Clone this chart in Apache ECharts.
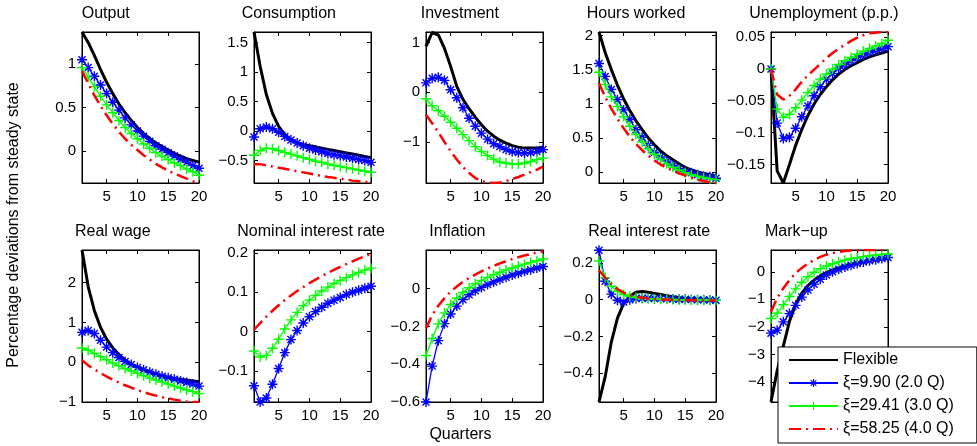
<!DOCTYPE html>
<html><head><meta charset="utf-8">
<script src="https://cdn.jsdelivr.net/npm/echarts@6/dist/echarts.min.js"></script>
<style>html,body{margin:0;padding:0;background:#fff}#c{width:977px;height:446px}</style>
</head><body><div id="c"></div><script>
// ---------------- data ----------------
const quarters = [1,2,3,4,5,6,7,8,9,10,11,12,13,14,15,16,17,18,19,20];
const seriesNames = ['Flexible', 'ξ=9.90 (2.0 Q)', 'ξ=29.41 (3.0 Q)', 'ξ=58.25 (4.0 Q)'];
const panelTitles = ['Output','Consumption','Investment','Hours worked','Unemployment (p.p.)',
                     'Real wage','Nominal interest rate','Inflation','Real interest rate','Mark\u2212up'];

const outputFlex = [1.37,1.25,1.10,0.94,0.79,0.66,0.54,0.44,0.35,0.27,0.20,0.14,0.09,0.05,0.01,-0.03,-0.06,-0.09,-0.11,-0.13];
const outputXi1  = [1.05,0.96,0.86,0.76,0.66,0.56,0.47,0.38,0.30,0.23,0.17,0.11,0.06,0.02,-0.02,-0.06,-0.10,-0.13,-0.17,-0.20];
const outputXi2  = [0.96,0.85,0.74,0.63,0.53,0.44,0.35,0.27,0.20,0.14,0.08,0.03,-0.02,-0.06,-0.10,-0.14,-0.17,-0.21,-0.24,-0.28];
const outputXi3  = [0.92,0.78,0.64,0.52,0.41,0.31,0.22,0.14,0.07,0.01,-0.05,-0.10,-0.15,-0.19,-0.23,-0.26,-0.29,-0.32,-0.35,-0.37];

const consFlex = [1.68,1.10,0.62,0.30,0.08,-0.06,-0.15,-0.20,-0.23,-0.25,-0.27,-0.29,-0.31,-0.33,-0.35,-0.37,-0.39,-0.41,-0.43,-0.45];
const consXi1  = [-0.10,0.04,0.07,0.04,-0.02,-0.09,-0.15,-0.20,-0.25,-0.29,-0.32,-0.35,-0.38,-0.40,-0.42,-0.44,-0.46,-0.48,-0.50,-0.53];
const consXi2  = [-0.41,-0.33,-0.29,-0.30,-0.33,-0.36,-0.39,-0.42,-0.45,-0.48,-0.51,-0.53,-0.56,-0.58,-0.60,-0.62,-0.64,-0.66,-0.68,-0.70];
const consXi3  = [-0.56,-0.56,-0.58,-0.60,-0.62,-0.64,-0.66,-0.68,-0.70,-0.72,-0.74,-0.76,-0.78,-0.79,-0.81,-0.82,-0.84,-0.85,-0.86,-0.87];

const invFlex = [0.92,1.20,1.15,0.88,0.52,0.12,-0.14,-0.33,-0.50,-0.65,-0.78,-0.88,-0.96,-1.02,-1.07,-1.10,-1.12,-1.12,-1.12,-1.10];
const invXi1  = [0.19,0.28,0.30,0.24,0.05,-0.11,-0.31,-0.52,-0.68,-0.82,-0.94,-1.03,-1.09,-1.15,-1.19,-1.21,-1.22,-1.21,-1.19,-1.15];
const invXi2  = [-0.13,-0.27,-0.37,-0.48,-0.60,-0.72,-0.85,-0.97,-1.09,-1.19,-1.27,-1.34,-1.40,-1.42,-1.44,-1.44,-1.42,-1.39,-1.35,-1.32];
const invXi3  = [-0.45,-0.62,-0.80,-1.00,-1.18,-1.35,-1.50,-1.62,-1.72,-1.78,-1.81,-1.82,-1.81,-1.78,-1.74,-1.70,-1.65,-1.60,-1.55,-1.49];

const hoursFlex = [2.05,1.75,1.50,1.27,1.07,0.90,0.75,0.62,0.50,0.40,0.31,0.24,0.18,0.12,0.07,0.03,0.00,-0.02,-0.04,-0.06];
const hoursXi1  = [1.59,1.40,1.21,1.06,0.91,0.77,0.62,0.51,0.39,0.29,0.22,0.16,0.10,0.05,0.01,-0.01,-0.04,-0.06,-0.07,-0.09];
const hoursXi2  = [1.46,1.28,1.10,0.96,0.81,0.67,0.55,0.44,0.34,0.26,0.19,0.12,0.07,0.03,-0.01,-0.04,-0.06,-0.08,-0.10,-0.11];
const hoursXi3  = [1.30,1.10,0.93,0.78,0.64,0.52,0.41,0.32,0.24,0.17,0.11,0.06,0.02,-0.02,-0.05,-0.08,-0.11,-0.13,-0.15,-0.16];

const unempFlex = [0,-0.160,-0.179,-0.150,-0.120,-0.095,-0.073,-0.055,-0.040,-0.028,-0.017,-0.008,-0.001,0.005,0.010,0.015,0.019,0.022,0.025,0.028];
const unempXi1  = [0,-0.085,-0.109,-0.107,-0.093,-0.075,-0.058,-0.042,-0.028,-0.016,-0.007,0.001,0.007,0.013,0.018,0.022,0.026,0.029,0.032,0.035];
const unempXi2  = [0,-0.063,-0.076,-0.071,-0.061,-0.049,-0.037,-0.026,-0.016,-0.008,0.000,0.007,0.013,0.018,0.023,0.028,0.032,0.036,0.040,0.045];
const unempXi3  = [0,-0.040,-0.048,-0.042,-0.032,-0.020,-0.010,-0.001,0.008,0.017,0.025,0.032,0.038,0.044,0.049,0.053,0.056,0.057,0.058,0.058];

const wageFlex = [2.82,1.90,1.30,0.88,0.58,0.36,0.19,0.05,-0.05,-0.13,-0.20,-0.26,-0.31,-0.35,-0.38,-0.41,-0.43,-0.45,-0.47,-0.49];
const wageXi1  = [0.75,0.80,0.72,0.55,0.38,0.24,0.12,0.02,-0.06,-0.13,-0.19,-0.25,-0.30,-0.35,-0.39,-0.43,-0.47,-0.51,-0.55,-0.60];
const wageXi2  = [0.35,0.30,0.22,0.14,0.06,-0.02,-0.09,-0.16,-0.22,-0.28,-0.34,-0.40,-0.45,-0.50,-0.55,-0.60,-0.65,-0.70,-0.74,-0.79];
const wageXi3  = [0.05,-0.08,-0.18,-0.27,-0.36,-0.44,-0.51,-0.58,-0.64,-0.70,-0.75,-0.80,-0.84,-0.88,-0.91,-0.94,-0.97,-0.99,-1.00,-1.00];

const nomXi1 = [-0.137,-0.178,-0.168,-0.133,-0.093,-0.053,-0.020,0.003,0.022,0.038,0.051,0.062,0.072,0.080,0.087,0.094,0.100,0.105,0.110,0.115];
const nomXi2 = [-0.049,-0.064,-0.060,-0.042,-0.019,0.007,0.030,0.049,0.066,0.080,0.092,0.103,0.113,0.122,0.130,0.137,0.144,0.150,0.156,0.161];
const nomXi3 = [0.005,0.022,0.038,0.053,0.067,0.080,0.092,0.103,0.113,0.123,0.132,0.141,0.149,0.157,0.164,0.171,0.178,0.185,0.191,0.197];

const inflXi1 = [-0.600,-0.410,-0.275,-0.185,-0.134,-0.092,-0.058,-0.032,-0.011,0.007,0.022,0.036,0.049,0.061,0.072,0.082,0.092,0.101,0.110,0.118];
const inflXi2 = [-0.354,-0.264,-0.186,-0.128,-0.084,-0.049,-0.020,0.005,0.026,0.044,0.060,0.074,0.087,0.099,0.110,0.120,0.130,0.139,0.148,0.157];
const inflXi3 = [-0.210,-0.140,-0.090,-0.050,-0.015,0.012,0.036,0.057,0.075,0.092,0.107,0.121,0.134,0.146,0.157,0.167,0.176,0.184,0.191,0.198];

const rrFlex = [-0.556,-0.420,-0.230,-0.100,-0.020,0.018,0.040,0.044,0.040,0.034,0.028,0.022,0.016,0.011,0.007,0.004,0.001,-0.001,-0.003,-0.005];
const rrXi1  = [0.269,0.100,0.030,-0.003,-0.012,0.000,0.006,0.008,0.008,0.007,0.006,0.005,0.004,0.003,0.002,0.001,0.000,-0.001,-0.002,-0.003];
const rrXi2  = [0.210,0.120,0.073,0.045,0.028,0.018,0.012,0.008,0.006,0.004,0.003,0.002,0.001,0.000,-0.001,-0.002,-0.002,-0.003,-0.003,-0.004];
const rrXi3  = [0.160,0.120,0.085,0.057,0.038,0.025,0.016,0.010,0.006,0.003,0.001,0.000,-0.001,-0.002,-0.003,-0.003,-0.004,-0.004,-0.004,-0.004];

const markFlex = [-4.72,-3.60,-2.70,-1.80,-1.18,-0.78,-0.50,-0.30,-0.15,-0.03,0.07,0.15,0.22,0.28,0.33,0.37,0.41,0.44,0.47,0.50];
const markXi1  = [-2.23,-2.12,-1.82,-1.52,-1.22,-0.92,-0.66,-0.45,-0.27,-0.12,0.00,0.09,0.17,0.24,0.30,0.35,0.40,0.44,0.48,0.52];
const markXi2  = [-1.70,-1.50,-1.20,-0.90,-0.62,-0.38,-0.18,-0.02,0.11,0.21,0.29,0.36,0.42,0.47,0.51,0.55,0.58,0.61,0.63,0.65];
const markXi3  = [-1.45,-0.95,-0.60,-0.30,-0.05,0.14,0.30,0.43,0.54,0.62,0.68,0.72,0.75,0.77,0.78,0.79,0.79,0.79,0.79,0.79];

const xTicks = [5,10,15,20];
const yTicksOutput = [0,0.5,1];
const yTicksCons   = [-0.5,0,0.5,1,1.5];
const yTicksInv    = [-1,0,1];
const yTicksHours  = [0,0.5,1,1.5,2];
const yTicksUnemp  = [-0.15,-0.1,-0.05,0,0.05];
const yTicksWage   = [-1,0,1,2];
const yTicksNom    = [-0.1,0,0.1,0.2];
const yTicksInfl   = [-0.6,-0.4,-0.2,0];
const yTicksRR     = [-0.4,-0.2,0,0.2];
const yTicksMark   = [-4,-3,-2,-1,0];

// ---------------- layout ----------------
const panels = [
  {data:[outputFlex,outputXi1,outputXi2,outputXi3], ticks:yTicksOutput, min:-0.37, max:1.37},
  {data:[consFlex,consXi1,consXi2,consXi3], ticks:yTicksCons, min:-0.88, max:1.68},
  {data:[invFlex,invXi1,invXi2,invXi3], ticks:yTicksInv, min:-1.82, max:1.21},
  {data:[hoursFlex,hoursXi1,hoursXi2,hoursXi3], ticks:yTicksHours, min:-0.16, max:2.05},
  {data:[unempFlex,unempXi1,unempXi2,unempXi3], ticks:yTicksUnemp, min:-0.179, max:0.058},
  {data:[wageFlex,wageXi1,wageXi2,wageXi3], ticks:yTicksWage, min:-1.0, max:2.82},
  {data:[null,nomXi1,nomXi2,nomXi3], ticks:yTicksNom, min:-0.178, max:0.207},
  {data:[null,inflXi1,inflXi2,inflXi3], ticks:yTicksInfl, min:-0.6, max:0.205},
  {data:[rrFlex,rrXi1,rrXi2,rrXi3], ticks:yTicksRR, min:-0.556, max:0.27},
  {data:[markFlex,markXi1,markXi2,markXi3], ticks:yTicksMark, min:-4.73, max:0.79}
];
const colLeft = [82, 254, 426, 599, 771];
const rowTop = [32, 250];
const rowH = [151, 152];
const boxW = 117;
const titlePos = [[81.7,13.5],[241.7,13.5],[420.7,13.5],[586.7,13.5],[749.3,13.5],
                  [75,232],[237.3,232],[429.3,232],[588.3,232],[765,232]];

const FONT = '"Liberation Sans", Arial, Helvetica, sans-serif';
const STAR = 'path://M0 43L100 43L100 57L0 57Z M43 0L57 0L57 100L43 100Z M10 20L20 10L90 80L80 90Z M80 10L90 20L20 90L10 80Z';
const PLUS = 'path://M0 43L100 43L100 57L0 57Z M43 0L57 0L57 100L43 100Z';
// invisible marker (two sub-pixel specks at the corners) so the legend shows a bare line
const NOMARK = 'path://M0 0L0.1 0L0.1 0.1Z M99.9 99.9L100 99.9L100 100Z';
const styles = [
  {color:'#000000', width:3, type:'solid', symbol:NOMARK, size:0, show:false},
  {color:'#0000ff', width:1.3, type:'solid', symbol:STAR, size:10, show:true},
  {color:'#00ff00', width:1.3, type:'solid', symbol:PLUS, size:10, show:true},
  {color:'#ff0000', width:2.5, type:[12,5,2,5], symbol:NOMARK, size:0, show:false}
];
const fmt = v => (v < 0 ? '\u2212' + String(-v) : String(v));

const grid = [], xAxis = [], yAxis = [], series = [], graphic = [];
panels.forEach((p, i) => {
  const r = Math.floor(i / 5), c = i % 5;
  grid.push({left: colLeft[c], top: rowTop[r], width: boxW, height: rowH[r],
             show: true, borderColor: '#000', borderWidth: 1, backgroundColor: '#fff'});
  const xa = {gridIndex: i, type: 'value', min: 1, max: 20,
    axisLine: {show: true, onZero: false, lineStyle: {color: '#000', width: 1}},
    splitLine: {show: false}};
  xAxis.push(Object.assign({}, xa, {position: 'bottom',
    axisTick: {show: true, inside: true, length: 4, customValues: xTicks, lineStyle: {color: '#000'}},
    axisLabel: {show: true, customValues: xTicks, color: '#000', fontSize: 15, fontFamily: FONT, margin: 6}}));
  xAxis.push(Object.assign({}, xa, {position: 'top',
    axisTick: {show: true, inside: true, length: 4, customValues: xTicks, lineStyle: {color: '#000'}},
    axisLabel: {show: false}}));
  const ya = {gridIndex: i, type: 'value', min: p.min, max: p.max,
    axisLine: {show: true, onZero: false, lineStyle: {color: '#000', width: 1}},
    splitLine: {show: false}};
  yAxis.push(Object.assign({}, ya, {position: 'left',
    axisTick: {show: true, inside: true, length: 4, customValues: p.ticks, lineStyle: {color: '#000'}},
    axisLabel: {show: true, customValues: p.ticks, formatter: fmt, color: '#000', fontSize: 15, fontFamily: FONT, margin: 6}}));
  yAxis.push(Object.assign({}, ya, {position: 'right',
    axisTick: {show: true, inside: true, length: 4, customValues: p.ticks, lineStyle: {color: '#000'}},
    axisLabel: {show: false}}));
  p.data.forEach((arr, k) => {
    if (!arr) return;
    const s = styles[k];
    series.push({
      name: seriesNames[k], type: 'line', xAxisIndex: 2 * i, yAxisIndex: 2 * i,
      data: quarters.map((q, j) => [q, arr[j]]),
      symbol: s.symbol, symbolSize: s.size, showSymbol: s.show,
      itemStyle: {color: s.color, borderWidth: 0}, lineStyle: {color: s.color, width: s.width, type: s.type},
      animation: false, silent: true, clip: true, z: 2 + k
    });
  });
  graphic.push({type: 'text', x: titlePos[i][0], y: titlePos[i][1],
    style: {text: panelTitles[i], font: '16px ' + FONT, fill: '#000', textAlign: 'left', textVerticalAlign: 'middle'}});
});
graphic.push({type: 'text', x: 14, y: 225, rotation: Math.PI / 2,
  style: {text: 'Percentage deviations from steady state', font: '16px ' + FONT, fill: '#000', textAlign: 'center', textVerticalAlign: 'middle'}});
graphic.push({type: 'text', x: 460.5, y: 435,
  style: {text: 'Quarters', font: '16px ' + FONT, fill: '#000', textAlign: 'center', textVerticalAlign: 'middle'}});

const chart = echarts.init(document.getElementById('c'), null, {renderer: 'canvas'});
chart.setOption({
  animation: false,
  backgroundColor: '#fff',
  grid, xAxis, yAxis, series, graphic,
  legend: {
    data: seriesNames, orient: 'vertical', left: 778, top: 347,
    padding: [5, 23, 6, 10], itemWidth: 49, itemHeight: 10, itemGap: 7,
    backgroundColor: '#fff', borderColor: '#000', borderWidth: 1, borderRadius: 0,
    selectedMode: false, z: 20,
    textStyle: {color: '#000', fontSize: 16, fontFamily: FONT, lineHeight: 16}
  }
});
</script></body></html>
